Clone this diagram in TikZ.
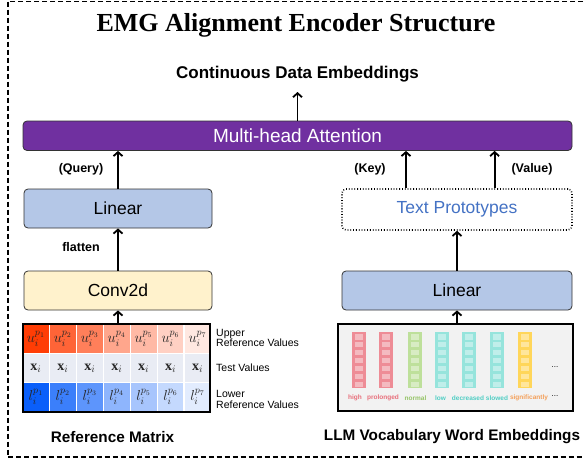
\documentclass[tikz,border=0pt]{standalone}
\usepackage{amsmath}
\usepackage{fontspec}
\setmainfont{Liberation Sans}
\newfontfamily\titlefont{Liberation Serif}
\usepackage{tikz}
\usetikzlibrary{positioning,arrows.meta,calc}

\definecolor{attnpurple}{RGB}{112,48,160}
\definecolor{linblue}{RGB}{180,199,231}
\definecolor{convyellow}{RGB}{255,242,204}
\definecolor{protoblue}{RGB}{68,114,196}
\definecolor{upperred}{RGB}{255,61,5}
\definecolor{lowerblue}{RGB}{10,95,250}
\definecolor{testgray}{RGB}{233,236,244}
\definecolor{vocabgray}{RGB}{242,242,242}
\definecolor{wordpink}{RGB}{238,140,150}
\definecolor{wordgreen}{RGB}{190,224,155}
\definecolor{wordcyan}{RGB}{150,228,220}
\definecolor{wordyellow}{RGB}{255,214,90}
\definecolor{labelpink}{RGB}{232,112,124}
\definecolor{labelgreen}{RGB}{150,196,104}
\definecolor{labelcyan}{RGB}{80,206,196}
\definecolor{labelorange}{RGB}{244,160,90}

\tikzset{
  block/.style={draw=black!80, rounded corners=4pt, line width=0.8pt, minimum height=39pt, inner sep=0pt, font=\fontsize{17.5}{20}\selectfont},
  flow/.style={-{Straight Barb[length=4pt, width=9pt]}, line width=1.8pt},
  tag/.style={font=\fontsize{12.5}{14}\selectfont\bfseries},
  caption/.style={font=\fontsize{15.3}{18}\selectfont\bfseries},
  sidelabel/.style={anchor=west, align=left, inner sep=0pt, font=\fontsize{10.5}{10.5}\selectfont},
  cell/.style={draw=white, line width=1.2pt},
  mathcell/.style={text=black!85, inner sep=0pt, font=\fontsize{14}{16}\selectfont},
  vec/.style={minimum width=14pt, minimum height=56pt, inner sep=0pt},
  wordlabel/.style={inner sep=0pt, font=\fontsize{6.5}{7}\selectfont\bfseries}
}

\begin{document}
\begin{tikzpicture}[x=1pt, y=-1pt]
  \useasboundingbox (0,0) rectangle (584,466);
  % outer frame
  \draw[dash pattern=on 5pt off 3pt, line width=1.3pt] (8,1.5) rectangle (640,457);

  % title and output
  \node[font=\fontsize{26}{30}\titlefont\bfseries] (title) at (296,25) {EMG Alignment Encoder Structure};
  \node[font=\fontsize{17}{20}\selectfont\bfseries] (cde) at (297.5,74) {Continuous Data Embeddings};
  \coordinate (out) at (297.5,92);

  % attention
  \node[block, fill=attnpurple, text=white, minimum width=549pt, minimum height=29.5pt, font=\fontsize{19}{20}\selectfont] (mha) at (297.5,135.75) {Multi-head Attention};
  \draw[flow] (mha.north) -- (out);

  % left branch
  \node[block, fill=linblue, minimum width=188pt] (linL) at (118,208.5) {Linear};
  \node[block, fill=convyellow, minimum width=188pt] (conv) at (118,290.5) {Conv2d};
  \draw[flow] (linL.north) -- (linL.north |- mha.south);
  \draw[flow] (conv.north) -- (linL.south);
  \node[tag] (qlab) at (81,169.5) {(Query)};
  \node[tag] (flab) at (81,247) {flatten};

  % right branch
  \node[block, draw=black, dotted, line width=1.6pt, fill=white, text=protoblue, minimum width=230pt, minimum height=41pt] (proto) at (457,209.5) {Text Prototypes};
  \node[block, fill=linblue, minimum width=230pt] (linR) at (457,290.5) {Linear};
  \coordinate (keyfoot) at ([xshift=-51pt]proto.north);
  \coordinate (valfoot) at ([xshift=37.6pt]proto.north);
  \draw[flow] (keyfoot) -- (keyfoot |- mha.south);
  \draw[flow] (valfoot) -- (valfoot |- mha.south);
  \draw[flow] (linR.north) -- (proto.south);
  \node[tag] (klab) at (370,169.5) {(Key)};
  \node[tag] (vlab) at (532,169.5) {(Value)};

  % reference matrix
  \foreach \c/\m in {1/100,2/80,3/66,4/46,5/36,6/24,7/12} {
    \pgfmathsetmacro{\xa}{22.5+(\c-1)*26.93}
    \pgfmathsetmacro{\xm}{\xa+13.47}
    \draw[cell, fill=upperred!\m!white] (\xa,324.3) rectangle ++(26.93,29.1);
    \draw[cell, fill=testgray] (\xa,353.4) rectangle ++(26.93,29.1);
    \draw[cell, fill=lowerblue!\m!white] (\xa,382.5) rectangle ++(26.93,29);
    \node[mathcell] at (\xm,338.85) {$u_i^{p_{\c}}$};
    \node[mathcell] at (\xm,367.95) {$\text{\titlefont\bfseries x}_i$};
    \node[mathcell] at (\xm,397) {$l_i^{p_{\c}}$};
  }
  \node[draw, line width=2pt, minimum width=187.5pt, minimum height=87.2pt, inner sep=0pt] (refmat) at (116.25,367.9) {};
  \draw[flow] (conv.south |- refmat.north) -- (conv.south);
  \node[sidelabel] (upper) at (216,338) {Upper\\Reference Values};
  \node[sidelabel] (test) at (216,367.5) {Test Values};
  \node[sidelabel] (lower) at (216,399.5) {Lower\\Reference Values};
  \node[caption] (refcap) at (112.5,437.5) {Reference Matrix};

  % vocabulary embeddings
  \node[draw, line width=1.6pt, fill=vocabgray, minimum width=235pt, minimum height=87.5pt, inner sep=0pt] (vocab) at (455.5,367.5) {};
  \draw[flow] (linR.south |- vocab.north) -- (linR.south);
  \foreach \x/\lx/\col/\lab/\word in {359/355/wordpink/labelpink/high, 386/383/wordpink/labelpink/prolonged, 415/415.5/wordgreen/labelgreen/normal, 442/440.5/wordcyan/labelcyan/low, 469/468/wordcyan/labelcyan/decreased, 497/497/wordcyan/labelcyan/slowed, 524.5/529/wordyellow/labelorange/significantly} {
    \node[vec, fill=\col] (v-\word) at (\x,360) {};
    \foreach \k in {0,...,6}
      \fill[white, opacity=0.4] (\x-4,334.2+\k*7.9) rectangle ++(8,5.3);
    \node[wordlabel, text=\lab] (w-\word) at (\lx,398) {\word};
  }
  \node[font=\fontsize{8}{8}\selectfont] (dots1) at (555,367) {...};
  \node[font=\fontsize{8}{8}\selectfont] (dots2) at (555,396) {...};
  \node[caption] (vocabcap) at (452,437) {LLM Vocabulary Word Embeddings};
\end{tikzpicture}
\end{document}
